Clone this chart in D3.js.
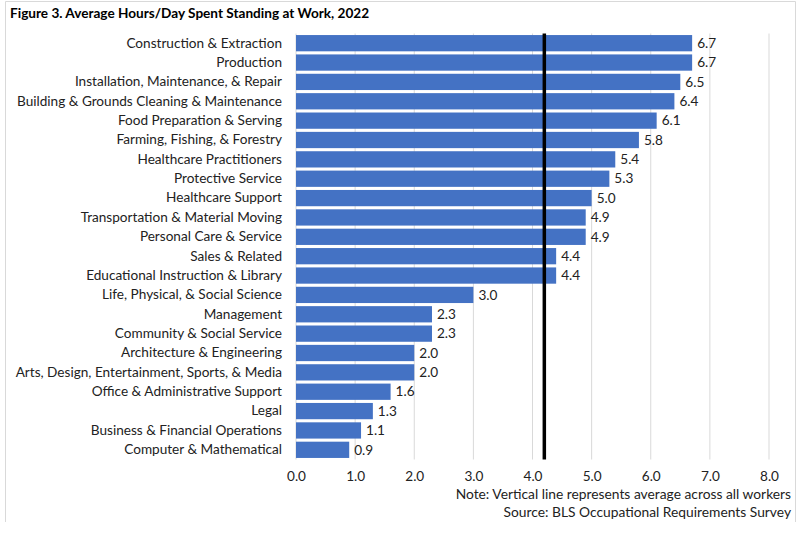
<!doctype html>
<html>
  <head>
    <script src="https://cdn.jsdelivr.net/npm/d3@7"></script>
    <style>
      body { margin: 0; background: #fff; }
      text { font-family: Lato, "Open Sans", sans-serif; fill: #222; }
    </style>
  </head>
  <body>
    <div id="chart"></div>
    <script>
      // data
      var categories = [
        "Construction & Extraction",
        "Production",
        "Installation, Maintenance, & Repair",
        "Building & Grounds Cleaning & Maintenance",
        "Food Preparation & Serving",
        "Farming, Fishing, & Forestry",
        "Healthcare Practitioners",
        "Protective Service",
        "Healthcare Support",
        "Transportation & Material Moving",
        "Personal Care & Service",
        "Sales & Related",
        "Educational Instruction & Library",
        "Life, Physical, & Social Science",
        "Management",
        "Community & Social Service",
        "Architecture & Engineering",
        "Arts, Design, Entertainment, Sports, & Media",
        "Office & Administrative Support",
        "Legal",
        "Business & Financial Operations",
        "Computer & Mathematical"
      ];
      var hours = [6.7, 6.7, 6.5, 6.4, 6.1, 5.8, 5.4, 5.3, 5.0, 4.9, 4.9, 4.4, 4.4, 3.0, 2.3, 2.3, 2.0, 2.0, 1.6, 1.3, 1.1, 0.9];
      var allWorkersAvg = 4.2;
      var xTicks = [0, 1, 2, 3, 4, 5, 6, 7, 8];

      var title = "Figure 3. Average Hours/Day Spent Standing at Work, 2022";
      var noteLines = [
        "Note: Vertical line represents average across all workers",
        "Source: BLS Occupational Requirements Survey"
      ];

      var W = 800, H = 537;
      // plot area (window.top is reserved, so use other names)
      var plotL = 296, plotR = 769, plotT = 33.5, plotB = 459.5;
      var fs = "13.6px";

      var svg = d3.select("#chart").append("svg")
        .attr("width", W)
        .attr("height", H);

      // outer frame (left, top, right)
      svg.append("path")
        .attr("d", "M5.5,522 V1.5 H795.5 V522")
        .attr("fill", "none")
        .attr("stroke", "#d9d9d9")
        .attr("stroke-width", 1);

      svg.append("text")
        .attr("x", 10)
        .attr("y", 18)
        .style("font-weight", "bold")
        .style("font-size", "13.6px")
        .style("fill", "#000")
        .text(title);

      var x = d3.scaleLinear().domain([0, 8]).range([plotL, plotR]);
      var y = d3.scaleBand().domain(categories).range([plotT, plotB]).paddingInner(0.16).paddingOuter(0.08);

      // gridlines
      svg.append("g")
        .selectAll("line")
        .data(xTicks)
        .enter()
        .append("line")
          .attr("x1", function(d) { return x(d); })
          .attr("x2", function(d) { return x(d); })
          .attr("y1", plotT)
          .attr("y2", plotB)
          .attr("stroke", "#d9d9d9")
          .attr("stroke-width", 1);

      // x axis labels
      var xAxis = svg.append("g")
        .attr("transform", "translate(0," + (plotB + 6) + ")")
        .call(d3.axisBottom(x).tickValues(xTicks).tickFormat(d3.format(".1f")).tickSize(0).tickPadding(6));
      xAxis.select(".domain").remove();
      xAxis.selectAll("text")
        .style("font-size", fs)
        .style("font-family", "Lato, sans-serif")
        .attr("fill", "#333");

      // bars
      svg.selectAll("rect.bar")
        .data(categories)
        .enter()
        .append("rect")
          .attr("class", "bar")
          .attr("x", x(0))
          .attr("y", function(d) { return y(d); })
          .attr("width", function(d, i) { return x(hours[i]) - x(0); })
          .attr("height", y.bandwidth())
          .attr("fill", "#4472c4");

      // value labels
      svg.selectAll("text.val")
        .data(categories)
        .enter()
        .append("text")
          .attr("class", "val")
          .attr("x", function(d, i) { return x(hours[i]) + 5; })
          .attr("y", function(d) { return y(d) + y.bandwidth() / 2; })
          .attr("dy", "0.35em")
          .style("font-size", fs)
          .text(function(d, i) { return hours[i].toFixed(1); });

      // category labels
      var yAxis = svg.append("g")
        .attr("transform", "translate(" + (plotL - 14) + ",0)")
        .call(d3.axisLeft(y).tickSize(0).tickPadding(0));
      yAxis.select(".domain").remove();
      yAxis.selectAll("text")
        .style("font-size", fs)
        .style("font-family", "Lato, sans-serif")
        .attr("fill", "#222");

      // average line
      svg.append("line")
        .attr("x1", x(allWorkersAvg))
        .attr("x2", x(allWorkersAvg))
        .attr("y1", plotT)
        .attr("y2", plotB)
        .attr("stroke", "#000")
        .attr("stroke-width", 3.5);

      // note and source
      svg.selectAll("text.note")
        .data(noteLines)
        .enter()
        .append("text")
          .attr("class", "note")
          .attr("x", 791)
          .attr("y", function(d, i) { return 499 + i * 18; })
          .attr("text-anchor", "end")
          .style("font-size", "13.8px")
          .text(function(d) { return d; });
    </script>
  </body>
</html>
